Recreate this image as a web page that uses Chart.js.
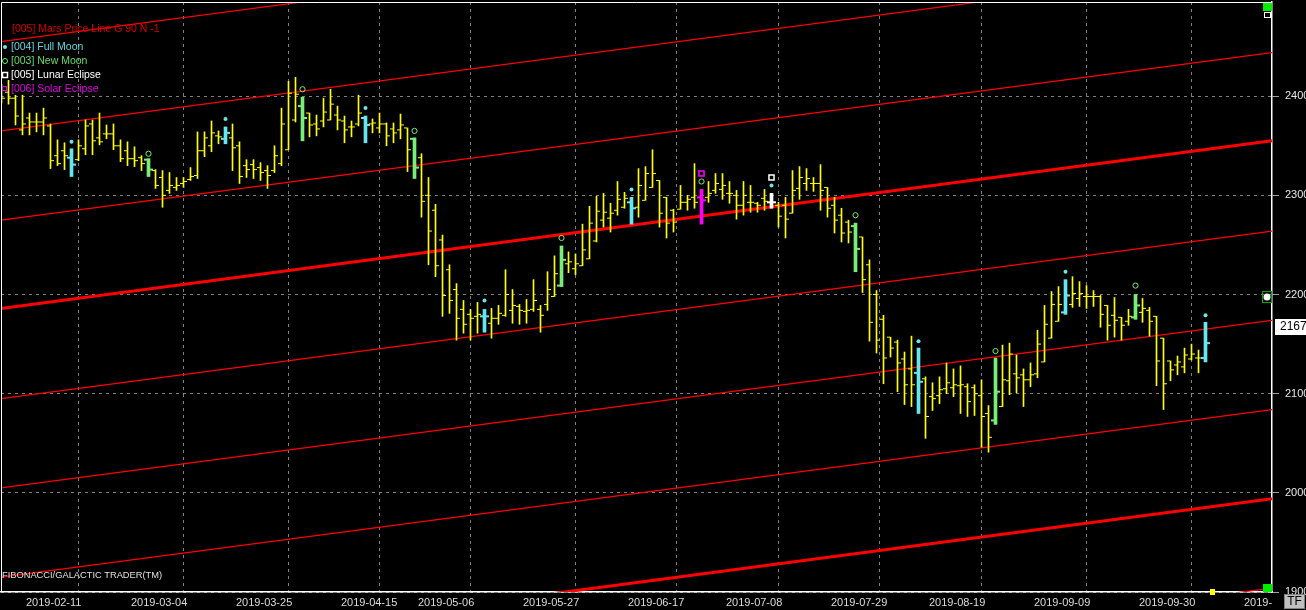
<!DOCTYPE html>
<html>
<head>
<meta charset="utf-8">
<script src="https://cdn.jsdelivr.net/npm/chart.js@4.4.1/dist/chart.umd.min.js"></script>
<style>
  html, body { margin: 0; padding: 0; background: #000; }
  canvas { display: block; }
</style>
</head>
<body>
<canvas id="chart" width="1306" height="610"></canvas>
<script>
// one slot per trading day, slot 4 = 2019-02-11
const opens = [
  2405, 2404, 2398, 2366, 2378, 2374, 2374, 2370, 2340, 2345,
  2338, 2336, 2347, 2372, 2358, 2362, 2362, 2350, 2345, 2337,
  2338, 2336, 2325, 2318, 2305, 2308, 2312, 2316, 2320, 2345,
  2350, 2360, 2357, 2358, 2350, 2330, 2331, 2328, 2325, 2325,
  2332, 2346, 2376, 2390, 2383, 2372, 2375, 2376, 2381, 2375,
  2369, 2372, 2378, 2372, 2368, 2372, 2367, 2366, 2368, 2357,
  2338, 2300, 2285, 2255, 2225, 2205, 2185, 2180, 2178, 2178,
  2171, 2176, 2179, 2184, 2188, 2183, 2185, 2185, 2190, 2198,
  2209, 2231, 2226, 2229, 2236, 2254, 2275, 2277, 2285, 2288,
  2293, 2288, 2295, 2308, 2315, 2298, 2285, 2286, 2293, 2298,
  2298, 2298, 2305, 2306, 2302, 2300, 2290, 2293, 2292, 2297,
  2293, 2290, 2290, 2282, 2307, 2312, 2312, 2312, 2308, 2290,
  2280, 2273, 2269, 2258, 2230, 2200, 2175, 2157, 2152, 2135,
  2125, 2121, 2115, 2097, 2098, 2105, 2106, 2108, 2107, 2106,
  2098, 2080, 2073, 2087, 2113, 2120, 2119, 2114, 2120, 2132,
  2156, 2173, 2182, 2190, 2196, 2198, 2198, 2198, 2189, 2179,
  2177, 2173, 2177, 2182, 2184, 2178, 2156, 2133, 2129, 2127,
  2135, 2136, 2136
];
const highs = [
  2412, 2416, 2401, 2401, 2383, 2383, 2388, 2372, 2356, 2353,
  2347, 2356, 2376, 2376, 2383, 2371, 2372, 2356, 2354, 2349,
  2340, 2337, 2326, 2325, 2323, 2318, 2318, 2328, 2364, 2364,
  2375, 2365, 2369, 2372, 2354, 2336, 2336, 2333, 2330, 2350,
  2388, 2415, 2419, 2399, 2383, 2381, 2398, 2407, 2390, 2380,
  2375, 2401, 2380, 2377, 2383, 2373, 2373, 2382, 2368, 2358,
  2342, 2318, 2291, 2260, 2230, 2211, 2194, 2185, 2192, 2185,
  2186, 2189, 2225, 2205, 2190, 2195, 2215, 2189, 2223, 2239,
  2249, 2243, 2241, 2271, 2289, 2299, 2302, 2292, 2314, 2303,
  2298, 2327, 2329, 2346, 2315, 2298, 2286, 2310, 2300, 2332,
  2306, 2314, 2322, 2322, 2314, 2305, 2314, 2310, 2293, 2306,
  2302, 2293, 2298, 2325, 2329, 2327, 2318, 2331, 2308, 2298,
  2287, 2275, 2272, 2258, 2235, 2204, 2179, 2157, 2154, 2142,
  2158, 2146, 2117, 2111, 2117, 2131, 2125, 2128, 2110, 2109,
  2114, 2088, 2136, 2149, 2151, 2139, 2125, 2131, 2164, 2189,
  2203, 2208, 2215, 2218, 2213, 2209, 2204, 2199, 2189, 2197,
  2177, 2185, 2200, 2196, 2187, 2178, 2156, 2133, 2138, 2146,
  2150, 2144, 2172
];
const lows = [
  2393, 2392, 2371, 2361, 2361, 2364, 2361, 2327, 2330, 2326,
  2319, 2335, 2341, 2341, 2351, 2357, 2346, 2334, 2330, 2329,
  2325, 2319, 2307, 2288, 2302, 2305, 2308, 2315, 2317, 2339,
  2344, 2352, 2352, 2325, 2312, 2318, 2317, 2315, 2307, 2323,
  2330, 2346, 2374, 2355, 2359, 2360, 2369, 2376, 2366, 2353,
  2359, 2370, 2353, 2363, 2363, 2350, 2353, 2357, 2324, 2317,
  2278, 2230, 2218, 2178, 2181, 2154, 2161, 2154, 2161, 2162,
  2156, 2170, 2178, 2171, 2170, 2171, 2183, 2162, 2184, 2198,
  2208, 2222, 2220, 2229, 2236, 2253, 2268, 2263, 2280, 2287,
  2271, 2278, 2295, 2308, 2268, 2257, 2263, 2286, 2285, 2287,
  2271, 2293, 2302, 2296, 2292, 2276, 2280, 2283, 2283, 2285,
  2287, 2268, 2257, 2282, 2296, 2305, 2304, 2285, 2278, 2262,
  2253, 2252, 2223, 2202, 2153, 2141, 2110, 2137, 2102, 2089,
  2087, 2080, 2055, 2083, 2090, 2100, 2097, 2080, 2077, 2078,
  2046, 2041, 2069, 2087, 2099, 2101, 2087, 2107, 2116, 2132,
  2156, 2173, 2180, 2187, 2188, 2186, 2188, 2167, 2154, 2157,
  2154, 2169, 2175, 2172, 2158, 2108, 2084, 2113, 2119, 2121,
  2134, 2121, 2132
];
const closes = [
  2398, 2398, 2380, 2372, 2374, 2374, 2378, 2335, 2332, 2340,
  2331, 2350, 2370, 2355, 2354, 2362, 2350, 2337, 2337, 2335,
  2332, 2326, 2310, 2300, 2310, 2310, 2314, 2319, 2345, 2358,
  2363, 2359, 2363, 2348, 2319, 2326, 2326, 2323, 2320, 2340,
  2372, 2403, 2402, 2378, 2371, 2367, 2384, 2392, 2376, 2366,
  2369, 2383, 2371, 2373, 2372, 2360, 2363, 2371, 2346, 2328,
  2294, 2264, 2229, 2199, 2194, 2176, 2170, 2176, 2180, 2178,
  2176, 2181, 2200, 2189, 2184, 2184, 2194, 2179, 2205, 2221,
  2235, 2233, 2231, 2245, 2272, 2284, 2283, 2282, 2296, 2297,
  2287, 2310, 2322, 2322, 2282, 2272, 2273, 2293, 2296, 2293,
  2295, 2302, 2312, 2310, 2302, 2290, 2300, 2293, 2290, 2294,
  2293, 2279, 2276, 2305, 2318, 2317, 2312, 2305, 2287, 2275,
  2262, 2263, 2246, 2215, 2172, 2154, 2136, 2146, 2131, 2109,
  2109, 2112, 2077, 2095, 2104, 2111, 2109, 2109, 2092, 2100,
  2077, 2056, 2102, 2114, 2140, 2116, 2114, 2119, 2150, 2170,
  2190, 2190, 2199, 2201, 2201, 2198, 2198, 2180, 2169, 2174,
  2169, 2178, 2189, 2186, 2173, 2133, 2110, 2124, 2132, 2139,
  2140, 2136, 2151
];

// moon / eclipse events: slot and the level of the marker above the bar
const fullMoonBars = [10, 32, 52, 69, 90, 110, 131, 152, 172];
const fullMoonMarks = [2354, 2377, 2388, 2194, 2306, 2310, 2153, 2223, 2179];
const newMoonBars = [21, 43, 59, 80, 100, 122, 142, 162];
const newMoonMarks = [2342, 2407, 2365, 2257, 2314, 2280, 2143, 2209];
const lunarEclipseBars = [110];
const lunarEclipseMarks = [2318];
const solarEclipseBars = [100];
const solarEclipseMarks = [2322];

// Mars price lines (G 90): price at left and right edge of the plot
const marsStart = [2455, 2365, 2275, 2186, 2095, 2005, 1915, 1825, 1735];
const marsEnd = [2624, 2534, 2444, 2355, 2264, 2174, 2084, 1994, 1904];

const dateBars = [4, 19, 34, 49, 60, 75, 90, 104, 119, 133, 148, 163, 178];
const dateLabels = ['2019-02-11', '2019-03-04', '2019-03-25', '2019-04-15', '2019-05-06',
  '2019-05-27', '2019-06-17', '2019-07-08', '2019-07-29', '2019-08-19', '2019-09-09',
  '2019-09-30', '2019-'];
const priceTicks = [1900, 2000, 2100, 2200, 2300, 2400];
const lastPrice = 2167;

const X_MIN = -0.0714, X_MAX = 181.5;
const PX = 1 / 7; // one pixel in slot units

const YELLOW = '#ffff00', CYAN = '#66e6ee', GREEN = '#77ee77', WHITE = '#ffffff', MAGENTA = '#ff00ff', RED = '#ff0000';

function barColor(i) {
  if (solarEclipseBars.includes(i)) return MAGENTA;
  if (lunarEclipseBars.includes(i)) return WHITE;
  if (fullMoonBars.includes(i)) return CYAN;
  if (newMoonBars.includes(i)) return GREEN;
  return YELLOW;
}
const slots = opens.map((_, i) => i);
const special = slots.filter(i => barColor(i) !== YELLOW);
const plain = slots.filter(i => barColor(i) === YELLOW);

const datasets = [];

// markers
const markSet = (bars, marks) => bars.map((b, j) => ({x: b, y: marks[j]}));
datasets.push({type: 'scatter', data: markSet(fullMoonBars, fullMoonMarks), pointStyle: 'circle',
  pointRadius: 2, backgroundColor: CYAN, borderWidth: 0, order: 1});
datasets.push({type: 'scatter', data: markSet(newMoonBars, newMoonMarks), pointStyle: 'circle',
  pointRadius: 2.6, backgroundColor: 'rgba(0,0,0,0)', borderColor: GREEN, borderWidth: 1, order: 1});
datasets.push({type: 'scatter', data: markSet(lunarEclipseBars, lunarEclipseMarks), pointStyle: 'rect',
  pointRadius: 3.6, backgroundColor: 'rgba(0,0,0,0)', borderColor: WHITE, borderWidth: 1.5, order: 1});
datasets.push({type: 'scatter', data: markSet(solarEclipseBars, solarEclipseMarks), pointStyle: 'rect',
  pointRadius: 3.6, backgroundColor: 'rgba(0,0,0,0)', borderColor: MAGENTA, borderWidth: 1.5, order: 1});

// open / close ticks of the event bars
datasets.push({type: 'scatter', order: 2, pointStyle: 'line', pointRadius: 1.5, borderWidth: 2,
  borderColor: special.map(barColor),
  data: special.map(i => ({x: i - 3 * PX, y: opens[i]}))});
datasets.push({type: 'scatter', order: 2, pointStyle: 'line', pointRadius: 1.5, borderWidth: 2,
  borderColor: special.map(barColor),
  data: special.map(i => ({x: i + 3 * PX, y: closes[i]}))});
// event bars
datasets.push({type: 'bar', order: 3, grouped: false, barThickness: 3,
  backgroundColor: special.map(barColor),
  data: special.map(i => ({x: i, y: [lows[i], highs[i]]}))});

// plain ticks and bars
datasets.push({type: 'scatter', order: 4, pointStyle: 'line', pointRadius: 1.5, borderWidth: 1,
  borderColor: YELLOW, data: plain.map(i => ({x: i - 2 * PX, y: opens[i]}))});
datasets.push({type: 'scatter', order: 4, pointStyle: 'line', pointRadius: 1.5, borderWidth: 1,
  borderColor: YELLOW, data: plain.map(i => ({x: i + 2 * PX, y: closes[i]}))});
datasets.push({type: 'bar', order: 5, grouped: false, barThickness: 1, backgroundColor: YELLOW,
  data: plain.map(i => ({x: i, y: [lows[i], highs[i]]}))});

// Mars price lines, every fourth one drawn heavy
marsStart.forEach((p, j) => {
  datasets.push({type: 'line', order: 6, borderColor: RED, borderWidth: (j % 4 === 3) ? 3 : 1.2,
    pointRadius: 0, tension: 0, data: [{x: X_MIN, y: p}, {x: X_MAX, y: marsEnd[j]}]});
});

const decor = {
  id: 'decor',
  afterDraw(chart) {
    const {ctx, chartArea: a, scales: {y}} = chart;
    ctx.save();
    ctx.strokeStyle = '#ffffff';
    ctx.lineWidth = 1;
    ctx.beginPath();
    ctx.moveTo(a.left + 0.5, a.bottom);
    ctx.lineTo(a.left + 0.5, a.top + 0.5);
    ctx.lineTo(a.right, a.top + 0.5);
    ctx.stroke();

    ctx.font = '10.5px Arial';
    ctx.textBaseline = 'middle';
    ctx.fillStyle = '#d80000';
    ctx.fillText('[005] Mars Price Line G 90 N -1', 12, 29);
    ctx.fillStyle = CYAN;
    ctx.beginPath(); ctx.arc(5, 47, 2, 0, Math.PI * 2); ctx.fill();
    ctx.fillStyle = '#60d4dc';
    ctx.fillText('[004] Full Moon', 11, 47);
    ctx.strokeStyle = GREEN;
    ctx.beginPath(); ctx.arc(5, 61, 2.5, 0, Math.PI * 2); ctx.stroke();
    ctx.fillStyle = '#66dd66';
    ctx.fillText('[003] New Moon', 11, 61);
    ctx.strokeStyle = WHITE; ctx.lineWidth = 1.5;
    ctx.strokeRect(2.5, 72.5, 5, 5);
    ctx.fillStyle = '#ffffff';
    ctx.fillText('[005] Lunar Eclipse', 11, 75);
    ctx.strokeStyle = '#e000e0'; ctx.lineWidth = 1;
    ctx.strokeRect(2.5, 86.5, 4, 4);
    ctx.fillStyle = '#e000e0';
    ctx.fillText('[006] Solar Eclipse', 11, 89);

    ctx.font = '9.3px Arial';
    ctx.fillStyle = '#e0e0e0';
    ctx.fillText('FIBONACCI/GALACTIC TRADER(TM)', 2, 575);

    // last price box
    const py = Math.round(y.getPixelForValue(lastPrice));
    ctx.fillStyle = '#ffffff';
    ctx.fillRect(1275, py - 8, 31, 16);
    ctx.fillStyle = '#000000';
    ctx.font = '12px Arial';
    ctx.fillText(String(lastPrice), 1280, py);

    // corner widgets
    ctx.fillStyle = '#00ee00';
    ctx.fillRect(a.right - 9, a.top + 1, 9, 8);
    ctx.fillRect(a.right - 9, a.bottom - 8, 9, 8);
    ctx.strokeStyle = '#ffffff'; ctx.lineWidth = 1;
    ctx.strokeRect(a.right - 7.5, a.top + 10.5, 6, 5);
    ctx.strokeStyle = '#00aa00';
    ctx.strokeRect(a.right - 9.5, 291.5, 9, 11);
    ctx.fillStyle = '#ffffff';
    ctx.beginPath(); ctx.arc(a.right - 5, 297, 3.5, 0, Math.PI * 2); ctx.fill();
    ctx.fillStyle = YELLOW;
    ctx.fillRect(1210, 589, 5, 6);

    // TF button
    ctx.fillStyle = '#c0c0c0';
    ctx.fillRect(1284, 594, 21, 15);
    ctx.strokeStyle = '#808080';
    ctx.strokeRect(1284.5, 594.5, 20, 14);
    ctx.fillStyle = '#000000';
    ctx.font = '12px Arial';
    ctx.textAlign = 'center';
    ctx.fillText('TF', 1294.5, 602);
    ctx.restore();
  }
};

const noPad = s => { s.paddingLeft = 0; s.paddingRight = 0; s.paddingTop = 0; s.paddingBottom = 0; };

new Chart(document.getElementById('chart'), {
  type: 'bar',
  data: {datasets},
  plugins: [decor],
  options: {
    responsive: false,
    devicePixelRatio: 1,
    animation: false,
    events: [],
    layout: {autoPadding: false, padding: {left: 1, top: 2, right: 0, bottom: 0}},
    plugins: {legend: {display: false}, tooltip: {enabled: false}},
    scales: {
      x: {
        type: 'linear',
        position: 'bottom',
        min: X_MIN,
        max: X_MAX,
        offset: false,
        afterBuildTicks: s => { s.ticks = dateBars.map(b => ({value: b - 0.5})); },
        afterFit: s => { s.height = 18; noPad(s); },
        grid: {color: '#808080', lineWidth: 1, drawTicks: false},
        border: {display: true, color: '#ffffff', width: 1.5, dash: [3, 4]},
        ticks: {
          autoSkip: false, maxRotation: 0, align: 'start', padding: 4,
          color: '#dcdcdc', font: {family: 'Arial', size: 11},
          callback: (v, i) => dateLabels[i]
        }
      },
      y: {
        type: 'linear',
        position: 'right',
        min: 1900,
        max: 2495,
        afterBuildTicks: s => { s.ticks = priceTicks.map(v => ({value: v})); },
        afterFit: s => { s.width = 34; noPad(s); },
        grid: {color: '#808080', lineWidth: 1, tickLength: 7, tickColor: '#a0a0a0'},
        border: {display: true, color: '#ffffff', width: 1.5, dash: [3, 4]},
        ticks: {
          padding: 6, color: '#e8e8e8', font: {family: 'Arial', size: 11},
          callback: v => String(v)
        }
      }
    }
  }
});
</script>
</body>
</html>
